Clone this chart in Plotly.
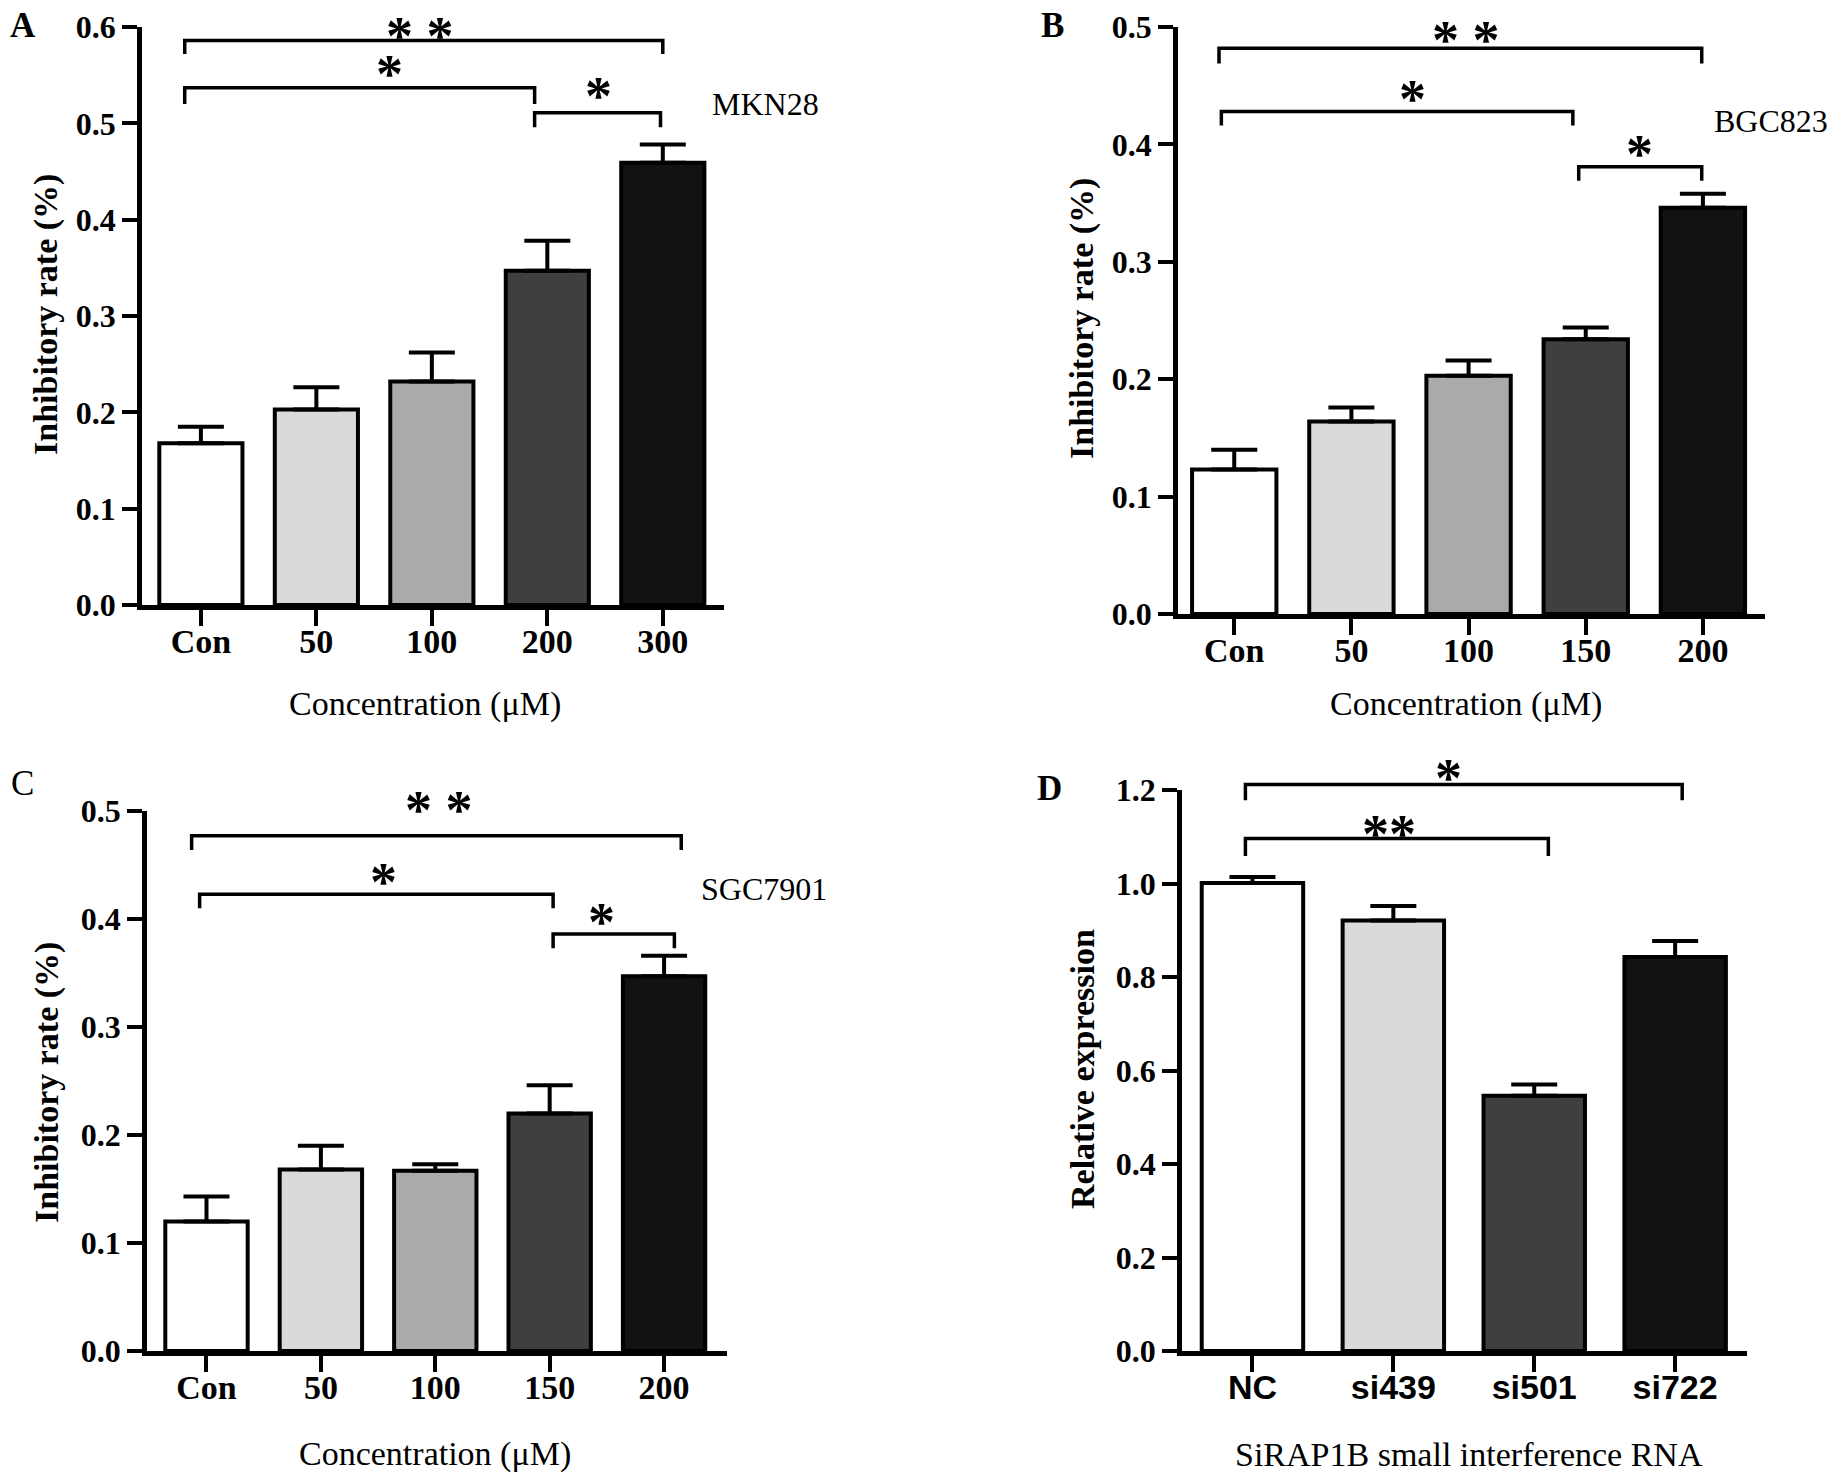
import plotly.graph_objects as go

# Panel A - MKN28
a_labels = ['Con', '50', '100', '200', '300']
a_mean = [0.168, 0.203, 0.232, 0.347, 0.459]
a_sem = [0.017, 0.023, 0.030, 0.031, 0.019]

# Panel B - BGC823
b_labels = ['Con', '50', '100', '150', '200']
b_mean = [0.123, 0.164, 0.203, 0.234, 0.346]
b_sem = [0.017, 0.012, 0.013, 0.010, 0.012]

# Panel C - SGC7901
c_labels = ['Con', '50', '100', '150', '200']
c_mean = [0.120, 0.168, 0.167, 0.220, 0.347]
c_sem = [0.023, 0.022, 0.006, 0.026, 0.019]

# Panel D - siRNA knockdown
d_labels = ['NC', 'si439', 'si501', 'si722']
d_mean = [1.001, 0.921, 0.546, 0.843]
d_sem = [0.013, 0.031, 0.024, 0.034]

fills5 = ['#ffffff', '#dadada', '#aaaaaa', '#3f3f3f', '#121212']
fills4 = ['#ffffff', '#dadada', '#3f3f3f', '#121212']

# significance brackets: (x start, x end, line height, tick bottom)
a_brackets = [(-0.14, 4.0, 0.586, 0.572), (-0.14, 2.89, 0.537, 0.520), (2.89, 3.98, 0.511, 0.496)]
b_brackets = [(-0.13, 3.99, 0.482, 0.469), (-0.11, 2.89, 0.428, 0.416), (2.94, 3.99, 0.381, 0.369)]
c_brackets = [(-0.13, 4.15, 0.477, 0.464), (-0.06, 3.03, 0.423, 0.410), (3.03, 4.09, 0.386, 0.373)]
d_brackets = [(-0.05, 3.05, 1.212, 1.178), (-0.05, 2.10, 1.096, 1.059)]

# star labels: (text, x, y)
a_stars = [('* *', 1.90, 0.598), ('*', 1.63, 0.558), ('*', 3.44, 0.536)]
b_stars = [('* *', 1.98, 0.495), ('*', 1.52, 0.445), ('*', 3.46, 0.398)]
c_stars = [('* *', 2.03, 0.507), ('*', 1.55, 0.441), ('*', 3.45, 0.404)]
d_stars = [('*', 1.39, 1.240), ('**', 0.97, 1.120)]

SERIF = 'Liberation Serif'
SANS = 'Liberation Sans'
W, H = 1844, 1472
OFF = 8  # page body margin


def px(x):
    return (x - OFF) / W


def py(y):
    return 1 - (y - OFF) / H


# plot boxes in pixels: left, right, y of zero, y of top
panels = [
    dict(labels=a_labels, mean=a_mean, sem=a_sem, fills=fills5, brackets=a_brackets, stars=a_stars,
         box=(142, 724, 605, 27), xrange=[-0.51, 4.53], ytop=0.6, dtick=0.1, xfont=SERIF),
    dict(labels=b_labels, mean=b_mean, sem=b_sem, fills=fills5, brackets=b_brackets, stars=b_stars,
         box=(1178, 1765, 614, 27), xrange=[-0.48, 4.53], ytop=0.5, dtick=0.1, xfont=SERIF),
    dict(labels=c_labels, mean=c_mean, sem=c_sem, fills=fills5, brackets=c_brackets, stars=c_stars,
         box=(147, 727, 1351, 811), xrange=[-0.52, 4.55], ytop=0.5, dtick=0.1, xfont=SERIF),
    dict(labels=d_labels, mean=d_mean, sem=d_sem, fills=fills4, brackets=d_brackets, stars=d_stars,
         box=(1182, 1747, 1351, 790), xrange=[-0.5, 3.51], ytop=1.2, dtick=0.2, xfont=SANS),
]

fig = go.Figure()
layout = {}
annotations = []
shapes = []

for i, p in enumerate(panels, start=1):
    xa = 'x' if i == 1 else f'x{i}'
    ya = 'y' if i == 1 else f'y{i}'
    n = len(p['labels'])
    xs = list(range(n))
    left, right, y0, y1 = p['box']
    ydom = [py(y0), py(y1)]

    def vy(v, ydom=ydom, top=p['ytop']):
        return ydom[0] + v / top * (ydom[1] - ydom[0])

    fig.add_trace(go.Bar(
        x=xs, y=p['mean'], width=0.72,
        marker=dict(color=p['fills'], line=dict(color='black', width=4)),
        error_y=dict(type='data', array=p['sem'], arrayminus=[0] * n, symmetric=False,
                     color='black', thickness=4, width=23),
        xaxis=xa, yaxis=ya, showlegend=False, hoverinfo='skip'
    ))

    for x0, x1, yl, yb in p['brackets']:
        shapes.append(dict(
            type='path', xref=xa, yref='paper',
            path=f'M {x0},{vy(yb)} L {x0},{vy(yl)} L {x1},{vy(yl)} L {x1},{vy(yb)}',
            line=dict(color='black', width=3.5)
        ))

    for txt, sx, sy in p['stars']:
        annotations.append(dict(
            text=txt, x=sx, y=vy(sy), xref=xa, yref='paper', showarrow=False,
            xanchor='center', yanchor='middle', yshift=-7,
            font=dict(family=SERIF, size=54, color='black', weight='bold')
        ))

    key_x = 'xaxis' if i == 1 else f'xaxis{i}'
    key_y = 'yaxis' if i == 1 else f'yaxis{i}'
    layout[key_x] = dict(
        domain=[px(left), px(right)], anchor=ya, range=p['xrange'],
        tickmode='array', tickvals=xs, ticktext=p['labels'],
        showline=True, linewidth=4.5, linecolor='black',
        ticks='outside', ticklen=16, tickwidth=4, tickcolor='black',
        ticklabelstandoff=-14,
        showgrid=False, zeroline=False, automargin=False,
        tickfont=dict(family=p['xfont'], size=34, color='black', weight='bold')
    )
    layout[key_y] = dict(
        domain=ydom, anchor=xa, range=[0, p['ytop']],
        tickmode='linear', tick0=0, dtick=p['dtick'], tickformat='.1f',
        showline=True, linewidth=4.5, linecolor='black',
        ticks='outside', ticklen=15, tickwidth=4, tickcolor='black',
        showgrid=False, zeroline=False, automargin=False,
        tickfont=dict(family=SERIF, size=32, color='black', weight='bold')
    )

# panel letters
for txt, x, y, w in [('A', 23, 26, 'bold'), ('B', 1052, 26, 'bold'),
                     ('C', 22, 783, 'normal'), ('D', 1049, 788, 'bold')]:
    annotations.append(dict(text=txt, x=px(x), y=py(y), xref='paper', yref='paper', showarrow=False,
                            xanchor='center', yanchor='middle',
                            font=dict(family=SERIF, size=35, color='black', weight=w)))

# y axis titles
for txt, x, y in [('Inhibitory rate (%)', 46, 315), ('Inhibitory rate (%)', 1082, 319),
                  ('Inhibitory rate (%)', 47, 1083), ('Relative expression', 1082, 1069)]:
    annotations.append(dict(text=txt, x=px(x), y=py(y), xref='paper', yref='paper', showarrow=False,
                            textangle=-90, xanchor='center', yanchor='middle',
                            font=dict(family=SERIF, size=34, color='black', weight='bold')))

# x axis titles
for txt, x, y in [('Concentration (μM)', 425, 704), ('Concentration (μM)', 1466, 704),
                  ('Concentration (μM)', 435, 1454), ('SiRAP1B small interference RNA', 1469, 1454)]:
    annotations.append(dict(text=txt, x=px(x), y=py(y), xref='paper', yref='paper', showarrow=False,
                            xanchor='center', yanchor='middle',
                            font=dict(family=SERIF, size=34, color='black')))

# cell line labels
annotations.append(dict(text='MKN28', x=px(765), y=py(104), xref='paper', yref='paper', showarrow=False,
                        xanchor='center', yanchor='middle', font=dict(family=SERIF, size=32, color='black')))
annotations.append(dict(text='BGC823', x=px(1712), y=py(121), xref='paper', yref='paper', showarrow=False,
                        xanchor='left', yanchor='middle', font=dict(family=SERIF, size=32, color='black')))
annotations.append(dict(text='SGC7901', x=px(764), y=py(889), xref='paper', yref='paper', showarrow=False,
                        xanchor='center', yanchor='middle', font=dict(family=SERIF, size=32, color='black')))

fig.update_layout(
    width=W, height=H,
    margin=dict(l=0, r=0, t=0, b=0, pad=0),
    paper_bgcolor='white', plot_bgcolor='white',
    showlegend=False,
    annotations=annotations,
    shapes=shapes,
    **layout
)

fig.write_html("out.html")
